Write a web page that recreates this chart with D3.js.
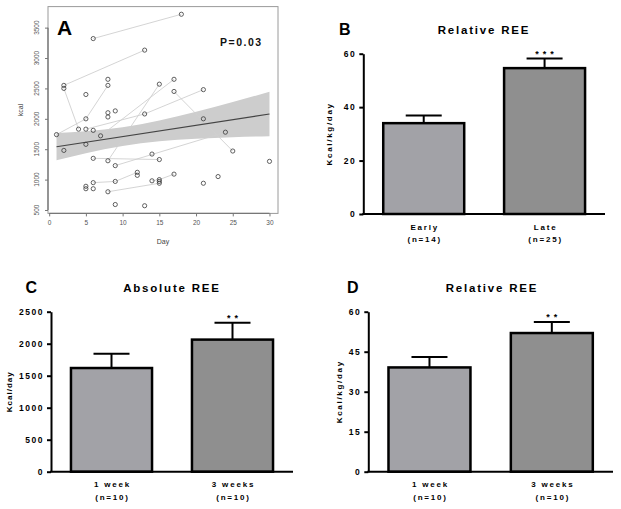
<!DOCTYPE html>
<html lang="en">
<head>
<meta charset="UTF-8">
<title>REE</title>
<style>
body { margin: 0; background: #fff; }
svg { display: block; font-family: "Liberation Sans", Arial, sans-serif; }
</style>
</head>
<body>
<script src="https://cdn.jsdelivr.net/npm/d3@7"></script>
<script>
// ---- panel A: individual measurements (day, kcal)
var scatterDay = [1, 2, 2, 2, 4, 5, 5, 5, 5, 5, 5, 6, 6, 6, 6, 6, 7, 8, 8, 8, 8, 8, 8,
    9, 9, 9, 9, 12, 12, 13, 13, 13, 14, 14, 15, 15, 15, 15, 15, 17, 17, 17, 18,
    21, 21, 21, 23, 24, 25, 30];
var scatterKcal = [1740, 1480, 2500, 2550, 1830, 2400, 2000, 1830, 1580, 890, 850, 3320, 1810, 1350, 950, 850, 1720, 2650, 2550, 2100, 2030, 1310, 800,
    2130, 1230, 970, 590, 1120, 1070, 3130, 2080, 570, 1420, 980, 2570, 1330, 1000, 970, 940, 2650, 2450, 1090, 3720,
    2480, 2000, 940, 1050, 1780, 1470, 1300];
// repeated measurements of the same patient, joined by grey lines
var pairLines = [
    [[6, 3320], [18, 3720]],
    [[2, 2550], [13, 3130]],
    [[2, 2500], [4, 1830]],
    [[1, 1740], [5, 2000], [8, 2550]],
    [[7, 1720], [17, 2650]],
    [[8, 1310], [15, 2570]],
    [[6, 1350], [15, 1330]],
    [[9, 1230], [24, 1780]],
    [[5, 1830], [13, 2080], [21, 2480]],
    [[17, 2450], [25, 1470]],
    [[6, 950], [9, 970], [12, 1120]],
    [[8, 800], [15, 940]],
    [[14, 980], [15, 1000], [17, 1090]]
];
var fitDay = [1, 30];
var fitKcal = [1541, 2079];
var bandDay = [1, 5, 10, 15, 20, 25, 30];
var bandLow = [1317, 1434, 1553, 1629, 1670, 1696, 1714];
var bandHigh = [1765, 1796, 1863, 1973, 2116, 2276, 2444];
var dayTicks = [0, 5, 10, 15, 20, 25, 30];
var kcalTicks = [500, 1000, 1500, 2000, 2500, 3000, 3500];

// ---- panel B: relative REE, early vs late
var earlyLateCats = ['Early', 'Late'];
var earlyLateN = ['(n=14)', '(n=25)'];
var earlyLateMean = [34.0, 54.6];
var earlyLateSem = [2.9, 3.6];
var relTicksB = [0, 20, 40, 60];

// ---- panels C and D: 1 week vs 3 weeks
var weekCats = ['1 week', '3 weeks'];
var weekN = ['(n=10)', '(n=10)'];
var absMean = [1620, 2064];
var absSem = [223, 264];
var absTicks = [0, 500, 1000, 1500, 2000, 2500];
var relWeekMean = [39.1, 52.0];
var relWeekSem = [3.9, 4.1];
var relTicksD = [0, 15, 30, 45, 60];

var barFill = ['#a2a2a7', '#8f8f8f'];

var svg = d3.select('body').append('svg')
    .attr('width', 621)
    .attr('height', 509);

// ================= panel A =================
var x = d3.scaleLinear().domain([-0.16, 31.16]).range([48, 278]);
var y = d3.scaleLinear().domain([444, 3846]).range([213.4, 6.6]);

var band = bandDay.map(function(d, i) { return {d: d, lo: bandLow[i], hi: bandHigh[i]}; });
svg.append('path')
    .datum(band)
    .attr('d', d3.area()
        .x(function(d) { return x(d.d); })
        .y0(function(d) { return y(d.lo); })
        .y1(function(d) { return y(d.hi); })
        .curve(d3.curveMonotoneX))
    .attr('fill', '#cdcdcd');

var line = d3.line()
    .x(function(d) { return x(d[0]); })
    .y(function(d) { return y(d[1]); });

svg.selectAll('path.pair')
    .data(pairLines)
    .enter()
    .append('path')
    .attr('class', 'pair')
    .attr('d', line)
    .attr('fill', 'none')
    .attr('stroke', '#cfcfcf')
    .attr('stroke-width', 0.9);

svg.append('path')
    .datum(fitDay.map(function(d, i) { return [d, fitKcal[i]]; }))
    .attr('d', line)
    .attr('fill', 'none')
    .attr('stroke', '#444')
    .attr('stroke-width', 1.1);

svg.selectAll('circle.pt')
    .data(scatterDay)
    .enter()
    .append('circle')
    .attr('class', 'pt')
    .attr('cx', function(d) { return x(d); })
    .attr('cy', function(d, i) { return y(scatterKcal[i]); })
    .attr('r', 2.1)
    .attr('fill', 'none')
    .attr('stroke', '#3a3a3a')
    .attr('stroke-width', 0.8);

svg.append('rect')
    .attr('x', 48).attr('y', 6.6)
    .attr('width', 230).attr('height', 206.8)
    .attr('fill', 'none')
    .attr('stroke', '#9a9a9a')
    .attr('stroke-width', 1);

var xAxisA = svg.append('g')
    .attr('transform', 'translate(0,213.4)')
    .call(d3.axisBottom(x).tickValues(dayTicks).tickSize(3).tickPadding(4).tickSizeOuter(0));
xAxisA.select('.domain').attr('d', 'M' + x(0) + ',0H' + x(30)).attr('stroke', '#777').attr('stroke-width', 1.3);
xAxisA.selectAll('line').attr('stroke', '#777');
xAxisA.selectAll('text').attr('font-size', '6.5px').attr('fill', '#555').attr('font-family', '"Liberation Sans", Arial, sans-serif');

var yAxisA = svg.append('g')
    .attr('transform', 'translate(48,0)')
    .call(d3.axisLeft(y).tickValues(kcalTicks).tickSize(3).tickFormat('').tickSizeOuter(0));
yAxisA.select('.domain').attr('d', 'M0,' + y(500) + 'V' + y(3500)).attr('stroke', '#777').attr('stroke-width', 1.3);
yAxisA.selectAll('line').attr('stroke', '#777');
svg.selectAll('text.kt')
    .data(kcalTicks)
    .enter()
    .append('text')
    .attr('class', 'kt')
    .attr('transform', function(d) { return 'translate(39,' + y(d) + ') rotate(-90)'; })
    .attr('text-anchor', 'middle')
    .attr('font-size', '6.5px')
    .attr('fill', '#555')
    .text(function(d) { return d; });

svg.append('text')
    .attr('transform', 'translate(22.5,110) rotate(-90)')
    .attr('text-anchor', 'middle')
    .attr('font-size', '7px')
    .attr('fill', '#444')
    .text('kcal');
svg.append('text')
    .attr('x', 163).attr('y', 243.5)
    .attr('text-anchor', 'middle')
    .attr('font-size', '7px')
    .attr('fill', '#444')
    .text('Day');
svg.append('text')
    .attr('x', 57).attr('y', 35)
    .attr('font-size', '21px')
    .attr('font-weight', 'bold')
    .text('A');
svg.append('text')
    .attr('x', 220).attr('y', 45.7)
    .attr('font-size', '10.5px')
    .attr('font-weight', 'bold')
    .attr('letter-spacing', '1.5px')
    .attr('fill', '#111')
    .text('P=0.03');

// ================= bar panels =================
function barPanel(o) {
    var g = svg.append('g');
    var bx = d3.scaleBand().domain(o.cats).range([o.x0, o.x1]).paddingInner(0.33).paddingOuter(0.165);
    var by = d3.scaleLinear().domain([0, o.yMax]).range([o.yBot, o.yTop]);
    var half = 18;

    o.cats.forEach(function(c, i) {
        var cx = bx(c) + bx.bandwidth() / 2;
        var top = by(o.mean[i] + o.sem[i]);
        g.append('line')
            .attr('x1', cx).attr('x2', cx)
            .attr('y1', by(o.mean[i])).attr('y2', top)
            .attr('stroke', '#000').attr('stroke-width', 2);
        g.append('line')
            .attr('x1', cx - half).attr('x2', cx + half)
            .attr('y1', top).attr('y2', top)
            .attr('stroke', '#000').attr('stroke-width', 2);
        g.append('rect')
            .attr('x', bx(c))
            .attr('y', by(o.mean[i]))
            .attr('width', bx.bandwidth())
            .attr('height', o.yBot - by(o.mean[i]))
            .attr('fill', barFill[i])
            .attr('stroke', '#000')
            .attr('stroke-width', 2.5);
        g.append('text')
            .attr('x', cx + 1).attr('y', o.yBot + 15.5)
            .attr('text-anchor', 'middle')
            .attr('font-size', '8px').attr('font-weight', 'bold')
            .attr('letter-spacing', '1.8px')
            .text(c);
        g.append('text')
            .attr('x', cx + 1).attr('y', o.yBot + 28)
            .attr('text-anchor', 'middle')
            .attr('font-size', '8px').attr('font-weight', 'bold')
            .attr('letter-spacing', '1.8px')
            .text(o.n[i]);
        if (o.stars[i]) {
            g.append('text')
                .attr('x', cx + 2).attr('y', top - 2)
                .attr('text-anchor', 'middle')
                .attr('font-size', '9px').attr('font-weight', 'bold')
                .attr('letter-spacing', '4px')
                .text(o.stars[i]);
        }
    });

    var ax = g.append('g')
        .attr('transform', 'translate(' + o.x0 + ',0)')
        .call(d3.axisLeft(by).tickValues(o.ticks).tickFormat(d3.format('d'))
            .tickSize(4).tickPadding(3).tickSizeOuter(0));
    ax.select('.domain').attr('stroke', '#000').attr('stroke-width', 2);
    ax.selectAll('line').attr('stroke', '#000').attr('stroke-width', 2);
    ax.selectAll('text')
        .attr('font-size', '8.5px').attr('font-weight', 'bold')
        .attr('letter-spacing', '1.5px')
        .attr('fill', '#000')
        .attr('font-family', '"Liberation Sans", Arial, sans-serif');

    g.append('line')
        .attr('x1', o.x0 - 1).attr('x2', o.x1)
        .attr('y1', o.yBot).attr('y2', o.yBot)
        .attr('stroke', '#000').attr('stroke-width', 2);

    g.append('text')
        .attr('transform', 'translate(' + o.yLabX + ',' + ((o.yTop + o.yBot) / 2) + ') rotate(-90)')
        .attr('text-anchor', 'middle')
        .attr('font-size', '8px').attr('font-weight', 'bold')
        .attr('letter-spacing', o.yLabSpacing)
        .text(o.yLabel);
    g.append('text')
        .attr('x', o.titleX).attr('y', o.yTop - 19.4)
        .attr('text-anchor', 'middle')
        .attr('font-size', '11.5px').attr('font-weight', 'bold')
        .attr('letter-spacing', '1.8px')
        .text(o.title);
    g.append('text')
        .attr('x', o.letterX).attr('y', o.yTop - 18.5)
        .attr('font-size', '16px').attr('font-weight', 'bold')
        .text(o.letter);
}

barPanel({
    letter: 'B', letterX: 339, title: 'Relative REE', titleX: 484,
    yLabel: 'Kcal/kg/day', yLabX: 331.5, yLabSpacing: '1.7px',
    x0: 363.3, x1: 605, yTop: 53.7, yBot: 214, yMax: 60, ticks: relTicksB,
    cats: earlyLateCats, n: earlyLateN, mean: earlyLateMean, sem: earlyLateSem,
    stars: ['', '***']
});
barPanel({
    letter: 'C', letterX: 25.5, title: 'Absolute REE', titleX: 172,
    yLabel: 'Kcal/day', yLabX: 12, yLabSpacing: '1px',
    x0: 51, x1: 293, yTop: 311.7, yBot: 471.7, yMax: 2500, ticks: absTicks,
    cats: weekCats, n: weekN, mean: absMean, sem: absSem,
    stars: ['', '**']
});
barPanel({
    letter: 'D', letterX: 347, title: 'Relative REE', titleX: 492,
    yLabel: 'Kcal/kg/day', yLabX: 342, yLabSpacing: '1.7px',
    x0: 368.3, x1: 613, yTop: 311.7, yBot: 471.7, yMax: 60, ticks: relTicksD,
    cats: weekCats, n: weekN, mean: relWeekMean, sem: relWeekSem,
    stars: ['', '**']
});
</script>
</body>
</html>
